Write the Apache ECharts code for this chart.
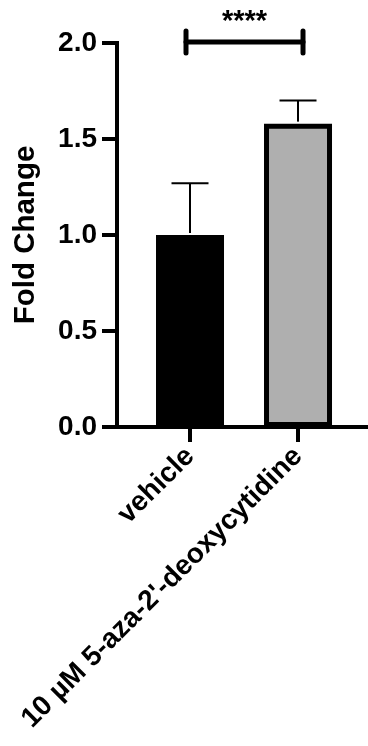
<!DOCTYPE html>
<html>
<head>
<meta charset="utf-8">
<script src="https://cdn.jsdelivr.net/npm/echarts@6/dist/echarts.min.js"></script>
<style>
html,body{margin:0;padding:0;background:#fff;}
#chart{width:368px;height:746px;}
</style>
</head>
<body>
<div id="chart"></div>
<script>
// ---- data ----
var categories = ['vehicle', "10 \u00b5M 5-aza-2'-deoxycytidine"];
var means = [1.0, 1.58];
var upperErr = [1.27, 1.70];
var barColors = ['#000000', '#afafaf'];
var yTicks = [0, 0.5, 1.0, 1.5, 2.0];
var sigPair = [0, 1];
var sigLevel = 2.0;
var sigText = '****';

var FONT = "'Liberation Sans', Arial, Helvetica, sans-serif";

var barData = means.map(function (v, i) {
  return { value: [i, v], itemStyle: { color: barColors[i], borderColor: '#000', borderWidth: 5 } };
});
var errData = means.map(function (v, i) { return [i, v, upperErr[i]]; });

var chart = echarts.init(document.getElementById('chart'), null, { renderer: 'canvas' });
chart.setOption({
  animation: false,
  backgroundColor: '#fff',
  grid: { left: 117, right: 0, top: 43, bottom: 319, outerBoundsMode: 'none', containLabel: false },
  xAxis: {
    type: 'value',
    min: -0.676,
    max: 1.648,
    splitLine: { show: false },
    axisLine: { onZero: false, lineStyle: { color: '#000', width: 4, cap: 'square' } },
    axisTick: { show: true, length: 15, customValues: [0, 1], lineStyle: { color: '#000', width: 4 } },
    axisLabel: {
      customValues: [0, 1],
      rotate: 45,
      margin: 25,
      color: '#000',
      fontFamily: FONT,
      fontWeight: 'bold',
      fontSize: 28,
      formatter: function (v) { return categories[Math.round(v)]; }
    }
  },
  yAxis: {
    type: 'value',
    min: 0,
    max: 2,
    interval: 0.5,
    name: 'Fold Change',
    nameLocation: 'middle',
    nameGap: 76,
    nameTextStyle: { color: '#000', fontFamily: FONT, fontWeight: 'bold', fontSize: 29.5 },
    splitLine: { show: false },
    axisLine: { show: true, onZero: false, lineStyle: { color: '#000', width: 4, cap: 'square' } },
    axisTick: { show: true, length: 15, lineStyle: { color: '#000', width: 4 } },
    axisLabel: {
      margin: 20,
      color: '#000',
      fontFamily: FONT,
      fontWeight: 'bold',
      fontSize: 28,
      formatter: function (v) { return v.toFixed(1); }
    }
  },
  series: [
    {
      type: 'bar',
      barWidth: 68,
      data: barData,
      z: 2
    },
    {
      type: 'custom',
      z: 3,
      data: errData,
      renderItem: function (params, api) {
        var x = api.value(0);
        var top = api.coord([x, api.value(2)]);
        var base = api.coord([x, api.value(1)]);
        var half = 18.5;
        return {
          type: 'group',
          children: [
            { type: 'line', shape: { x1: top[0], y1: top[1], x2: base[0], y2: base[1] - 2 }, style: { stroke: '#000', lineWidth: 2 } },
            { type: 'line', shape: { x1: top[0] - half, y1: top[1], x2: top[0] + half, y2: top[1] }, style: { stroke: '#000', lineWidth: 2 } }
          ]
        };
      }
    },
    {
      type: 'custom',
      z: 4,
      data: [[sigPair[0], sigPair[1], sigLevel]],
      renderItem: function (params, api) {
        var a = api.coord([api.value(0), api.value(2)]);
        var b = api.coord([api.value(1), api.value(2)]);
        var x1 = a[0] - 4, x2 = b[0] + 5;
        var y = a[1] - 1;
        return {
          type: 'group',
          children: [
            { type: 'line', shape: { x1: x1, y1: y, x2: x2, y2: y }, style: { stroke: '#000', lineWidth: 5, lineCap: 'round' } },
            { type: 'line', shape: { x1: x1, y1: y - 11, x2: x1, y2: y + 11 }, style: { stroke: '#000', lineWidth: 5, lineCap: 'round' } },
            { type: 'line', shape: { x1: x2, y1: y - 11, x2: x2, y2: y + 11 }, style: { stroke: '#000', lineWidth: 5, lineCap: 'round' } },
            { type: 'text', style: { text: sigText, x: (x1 + x2) / 2, y: y - 20, align: 'center', verticalAlign: 'middle', fill: '#000', fontSize: 29, fontWeight: 'bold', fontFamily: FONT } }
          ]
        };
      }
    }
  ]
});
</script>
</body>
</html>
